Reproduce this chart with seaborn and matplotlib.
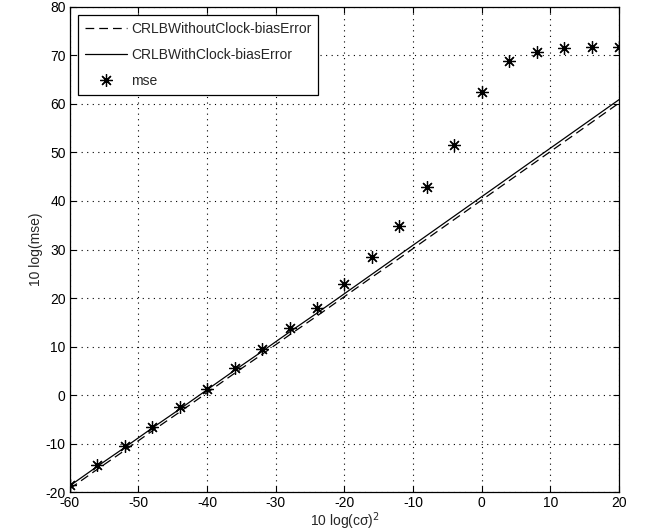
import matplotlib
matplotlib.use("Agg")
import matplotlib.pyplot as plt
import seaborn as sns
import pandas as pd

# values
x_db = [-60, -56, -52, -48, -44, -40, -36, -32, -28, -24, -20,
        -16, -12, -8, -4, 0, 4, 8, 12, 16, 20]
crlb_without = [-19.3, -15.3, -11.4, -7.4, -3.5, 0.5, 4.5, 8.4, 12.4, 16.3, 20.3,
                24.3, 28.2, 32.2, 36.2, 40.2, 44.2, 48.2, 52.2, 56.2, 60.2]
crlb_with = [-18.7, -14.7, -10.8, -6.8, -2.9, 1.1, 5.1, 9.0, 13.0, 16.9, 20.9,
             24.9, 28.9, 32.9, 36.9, 40.9, 44.9, 48.9, 52.9, 56.9, 60.9]
mse = [-18.5, -14.5, -10.5, -6.5, -2.5, 1.2, 5.5, 9.5, 13.8, 18.0, 22.8,
       28.5, 34.8, 42.8, 51.5, 62.5, 68.8, 70.8, 71.5, 71.7, 71.7]

df = pd.DataFrame({"x": x_db, "without": crlb_without, "with": crlb_with, "mse": mse})

sns.set_theme(style="white")
plt.rcParams['font.family'] = ['Liberation Sans', 'DejaVu Sans']
plt.rcParams['axes.unicode_minus'] = False

fig = plt.figure(figsize=(6.65, 5.32), dpi=100)
ax = fig.add_axes([0.105, 0.075, 0.826, 0.912])

sns.lineplot(data=df, x="x", y="without", ax=ax, color="black", lw=0.9,
             linestyle=(0, (7, 4)), label="CRLBWithoutClock-biasError")
sns.lineplot(data=df, x="x", y="with", ax=ax, color="black", lw=0.9,
             label="CRLBWithClock-biasError")
ax.plot(df["x"], df["mse"], linestyle="none", marker=(8, 2, 0), markersize=9,
        markeredgewidth=0.9, color="black", label="mse")

ax.set_xlim(-60, 20)
ax.set_ylim(-20, 80)
ax.set_xticks(range(-60, 21, 10))
ax.set_yticks(range(-20, 81, 10))
ax.set_xlabel("10 log(c\u03c3)$^2$", fontsize=10, labelpad=0)
ax.set_ylabel("10 log(mse)", fontsize=10, labelpad=2)

ax.grid(True, color="black", linestyle=(0, (1, 4)), linewidth=0.8)
ax.tick_params(direction="in", length=4, width=0.8, labelsize=10, colors="black",
               top=True, right=True, bottom=True, left=True, pad=3)
for s in ax.spines.values():
    s.set_color("black")
    s.set_linewidth(0.9)

leg = ax.legend(loc="upper left", fontsize=10, frameon=True, fancybox=False,
                edgecolor="black", framealpha=1, handlelength=3.0,
                borderaxespad=0.6, borderpad=0.5, labelspacing=0.85,
                handletextpad=0.3)
leg.get_frame().set_linewidth(0.9)

fig.savefig("out.png", dpi=100)
